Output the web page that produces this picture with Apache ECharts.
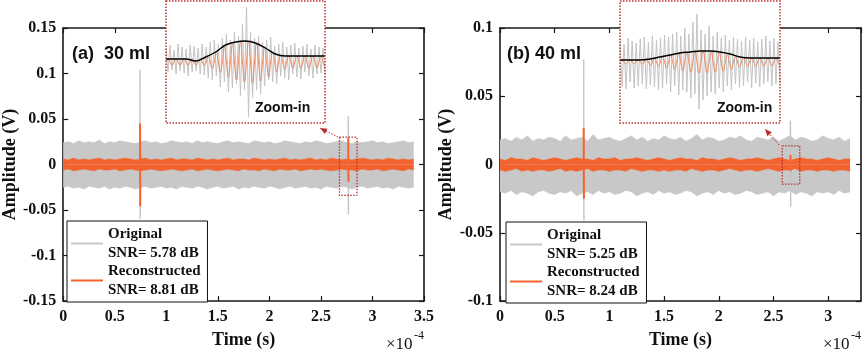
<!DOCTYPE html>
<html>
<head>
<meta charset="utf-8">
<script src="https://cdn.jsdelivr.net/npm/echarts@6/dist/echarts.min.js"></script>
<style>
  html, body { margin: 0; padding: 0; background: #fff; }
  #chart { width: 868px; height: 354px; }
</style>
</head>
<body>
<div id="chart"></div>
<script>
  // time in units of 1e-4 s, amplitude in mV (converted to V below)
  const bandStep = 0.05;

  // (a) 30 ml -- noise band envelopes, t = 0 .. 3.40
  const grayUpA = [
    24, 25, 23, 26, 24, 25, 24, 27, 23, 25,
    24, 26, 25, 24, 23, 25, 26, 24, 25, 23,
    24, 26, 25, 24, 25, 23, 26, 24, 25, 24,
    23, 25, 26, 24, 25, 24, 23, 26, 25, 24,
    25, 23, 24, 26, 25, 24, 23, 25, 24, 26,
    25, 23, 24, 25, 26, 24, 23, 25, 24, 25,
    26, 24, 25, 23, 24, 25, 26, 24, 25];
  const grayLowA = [
    -25, -24, -26, -25, -27, -24, -25, -26, -24, -27,
    -25, -26, -24, -25, -27, -25, -24, -26, -25, -24,
    -26, -25, -27, -24, -25, -26, -24, -25, -27, -25,
    -24, -26, -25, -24, -27, -25, -26, -24, -25, -26,
    -24, -25, -27, -25, -24, -26, -25, -24, -26, -25,
    -27, -24, -25, -26, -24, -25, -27, -25, -24, -26,
    -25, -24, -26, -25, -27, -24, -25, -26, -25];
  const orangeUpA = [
    6, 5, 7, 5, 6, 5, 6, 7, 5, 6,
    5, 6, 7, 6, 5, 6, 7, 5, 6, 5,
    6, 7, 5, 6, 6, 5, 7, 6, 5, 6,
    5, 6, 7, 5, 6, 6, 5, 7, 6, 5,
    6, 5, 6, 7, 5, 6, 5, 6, 7, 5,
    6, 5, 7, 6, 5, 6, 5, 6, 7, 6,
    5, 6, 5, 7, 6, 5, 6, 5, 6];
  const orangeLowA = [
    -6, -5, -7, -6, -5, -6, -7, -5, -6, -6,
    -5, -7, -6, -5, -6, -7, -6, -5, -6, -7,
    -6, -5, -6, -7, -6, -5, -7, -6, -5, -6,
    -7, -6, -5, -6, -7, -5, -6, -6, -7, -5,
    -6, -7, -5, -6, -6, -5, -7, -6, -5, -6,
    -5, -6, -7, -6, -5, -6, -6, -7, -5, -6,
    -6, -5, -7, -6, -5, -6, -7, -5, -6];
  // spikes: [time, top, bottom]
  const graySpikesA = [[0.745, 104, -60], [2.765, 53, -55]];
  const orangeSpikesA = [[0.745, 45, -46], [2.765, 29, -19]];
  // dotted zoom box: [t0, t1], [top, bottom]
  const boxTimeA = [2.68, 2.85];
  const boxAmpA = [30, -34];

  // (b) 40 ml -- t = 0 .. 3.20
  const grayUpB = [
    18, 19, 17, 20, 18, 21, 17, 19, 18, 20,
    19, 17, 21, 18, 19, 20, 17, 22, 18, 19,
    20, 18, 17, 19, 21, 18, 20, 17, 19, 18,
    21, 19, 18, 20, 17, 19, 22, 18, 20, 19,
    17, 18, 20, 19, 21, 18, 17, 20, 19, 18,
    20, 17, 19, 21, 18, 20, 19, 17, 18, 21,
    19, 18, 20, 17, 19];
  const grayLowB = [
    -20, -21, -19, -22, -20, -21, -23, -20, -19, -21,
    -22, -20, -21, -19, -23, -21, -20, -22, -19, -21,
    -20, -22, -21, -19, -20, -23, -21, -20, -22, -19,
    -21, -20, -22, -21, -19, -20, -23, -21, -20, -22,
    -19, -21, -20, -22, -21, -19, -20, -22, -21, -20,
    -23, -20, -21, -19, -22, -20, -21, -23, -20, -21,
    -20, -22, -19, -21, -20];
  const orangeUpB = [
    4, 3, 5, 4, 4, 3, 5, 4, 3, 4,
    5, 4, 3, 4, 5, 4, 4, 3, 5, 4,
    4, 5, 3, 4, 4, 5, 4, 3, 4, 5,
    4, 3, 4, 5, 4, 4, 3, 5, 4, 4,
    3, 4, 5, 4, 3, 4, 4, 5, 4, 3,
    4, 5, 4, 3, 4, 5, 4, 4, 3, 4,
    5, 4, 3, 4, 4];
  const orangeLowB = [
    -4, -5, -4, -3, -5, -4, -5, -4, -4, -5,
    -4, -3, -5, -4, -5, -4, -3, -5, -4, -4,
    -5, -4, -4, -5, -3, -4, -5, -4, -4, -5,
    -4, -5, -4, -4, -5, -3, -4, -5, -4, -4,
    -5, -4, -3, -4, -5, -4, -4, -5, -4, -3,
    -4, -5, -4, -4, -3, -5, -4, -4, -5, -4,
    -4, -5, -4, -4, -5];
  const graySpikesB = [[0.765, 77, -41], [2.655, 32, -31]];
  const orangeSpikesB = [[0.765, 27, -25], [2.655, 7, -5]];
  const boxTimeB = [2.58, 2.74];
  const boxAmpB = [13.7, -14.4];

  // zoom-in insets (relative amplitude)
  const insetGrayA = [
    14, -10, 17, -8, 12, -12, 18, -9, 15, -11, 13, -14, 17, -10, 16, -9, 14, -12, 18, -13,
    15, -16, 20, -18, 22, -14, 18, -25, 24, -20, 28, -30, 22, -26, 30, -22, 26, -34, 38, -28,
    55, -55, 30, -36, 24, -28, 26, -32, 20, -24, 22, -18, 25, -20, 16, -22, 18, -14, 20, -16,
    15, -18, 17, -12, 19, -15, 14, -17, 16, -10, 18, -14, 13, -16, 17, -12, 15, -11, 14, -13];
  const insetOrangeA = [
    0, 3, 0, -3, 0, 3, 0, -3, 0, 3, 0, -3, 0, 3, 0, -3, 0, 3, 0, -3,
    0, 6, 0, -6, 0, 10, 0, -10, 0, 15, 0, -15, 0, 18, 0, -18, 0, 20, 0, -20,
    0, 21, 0, -21, 0, 19, 0, -19, 0, 15, 0, -15, 0, 10, 0, -10, 0, 7, 0, -7,
    0, 6, 0, -6, 0, 6, 0, -6, 0, 6, 0, -6, 0, 6, 0, -6, 0, 6, 0, -6];
  const insetEnvA = [3, 3, 3, 1, 5, 10, 17, 20, 21, 19, 14, 8, 6, 6, 6, 6, 6];

  const insetGrayB = [
    22, -25, 18, -27, 24, -20, 21, -26, 19, -24, 23, -22, 25, -27, 20, -23, 26, -25, 22, -28,
    24, -26, 27, -22, 25, -30, 28, -24, 30, -33, 26, -28, 34, -30, 28, -36, 40, -32, 48, -47,
    32, -38, 28, -34, 36, -30, 26, -32, 30, -26, 24, -30, 27, -24, 22, -28, 25, -22, 23, -26,
    21, -24, 25, -20, 22, -26, 24, -21, 20, -25, 23, -22, 26, -20, 21, -24, 24, -22, 20, -21];
  const insetOrangeB = [
    0, 2, 0, -2, 0, 2, 0, -2, 0, 2, 0, -2, 0, 3, 0, -3, 0, 4, 0, -4,
    0, 6, 0, -6, 0, 7, 0, -7, 0, 9, 0, -9, 0, 10, 0, -10, 0, 11, 0, -11,
    0, 11, 0, -11, 0, 10, 0, -10, 0, 9, 0, -9, 0, 7, 0, -7, 0, 5, 0, -5,
    0, 4, 0, -4, 0, 4, 0, -4, 0, 4, 0, -4, 0, 4, 0, -4, 0, 4, 0, -4];
  const insetEnvB = [2, 2, 2, 3, 5, 7, 9, 10, 11, 11, 10, 8, 5, 4, 4, 4, 4];

  const legendText = {
    origA: 'Original\nSNR= 5.78 dB',
    recA: 'Reconstructed\nSNR= 8.81 dB',
    origB: 'Original\nSNR= 5.25 dB',
    recB: 'Reconstructed\nSNR= 8.24 dB'
  };

  const GRAY = '#c8c8c8';
  const ORANGE = '#f4632e';
  const RED = '#b5302f';
  const SERIF = 'Liberation Serif';
  const SANS = 'Liberation Sans';

  const band = vals => vals.map((v, i) => [+(i * bandStep).toFixed(3), v / 1000]);
  const seq = vals => vals.map((v, i) => [i / (vals.length - 1), v]);

  function areaSeries(name, vals, color, grid) {
    return {
      name: name, type: 'line', xAxisIndex: grid * 2, yAxisIndex: grid * 2,
      data: band(vals), showSymbol: false, silent: true,
      lineStyle: {color: color, width: 0.6}, itemStyle: {color: color},
      areaStyle: {color: color, opacity: 1}
    };
  }
  function spikeSeries(list, color, width, grid) {
    return list.map(s => ({
      type: 'line', xAxisIndex: grid * 2, yAxisIndex: grid * 2, silent: true,
      data: [[s[0], s[1] / 1000], [s[0] + 0.002, s[2] / 1000]],
      showSymbol: false, lineStyle: {color: color, width: width}
    }));
  }
  function boxSeries(ts, amps, grid) {
    const top = amps[0] / 1000, bot = amps[1] / 1000;
    return {
      type: 'line', xAxisIndex: grid * 2, yAxisIndex: grid * 2, z: 6, silent: true,
      data: [[ts[0], top], [ts[1], top], [ts[1], bot], [ts[0], bot], [ts[0], top]],
      showSymbol: false, lineStyle: {color: RED, width: 1.3, type: [1.5, 1.5]}
    };
  }

  const axisLine = {show: true, onZero: false, lineStyle: {color: '#1a1a1a', width: 1.6}};
  const tickIn = {show: true, inside: true, length: 5, lineStyle: {color: '#1a1a1a', width: 1.2}};
  const labelFont = {fontFamily: SERIF, fontWeight: 'bold', fontSize: 16, color: '#111'};
  const nameFont = {fontFamily: SERIF, fontWeight: 'bold', fontSize: 18, color: '#111'};

  function mainX(grid, max, showMax) {
    return [
      {type: 'value', gridIndex: grid, min: 0, max: max, interval: 0.5, position: 'bottom',
        axisLine: axisLine, axisTick: tickIn, splitLine: {show: false},
        axisLabel: Object.assign({margin: 8, showMaxLabel: showMax}, labelFont),
        name: 'Time (s)', nameLocation: 'middle', nameGap: 30, nameTextStyle: nameFont},
      {type: 'value', gridIndex: grid, min: 0, max: max, interval: 0.5, position: 'top',
        axisLine: axisLine, axisTick: tickIn, splitLine: {show: false}, axisLabel: {show: false}}
    ];
  }
  function mainY(grid, lim) {
    return [
      {type: 'value', gridIndex: grid, min: -lim, max: lim, interval: 0.05, position: 'left',
        axisLine: axisLine, axisTick: tickIn, splitLine: {show: false},
        axisLabel: Object.assign({margin: 7}, labelFont),
        name: 'Amplitude (V)', nameLocation: 'middle', nameGap: 43, nameTextStyle: nameFont},
      {type: 'value', gridIndex: grid, min: -lim, max: lim, interval: 0.05, position: 'right',
        axisLine: axisLine, axisTick: tickIn, splitLine: {show: false}, axisLabel: {show: false}}
    ];
  }
  const hiddenX = grid => ({type: 'value', gridIndex: grid, min: 0, max: 1, show: false});
  const hiddenY = grid => ({type: 'value', gridIndex: grid, min: -61, max: 61, show: false});

  function insetSeries(gray, orange, env, idx) {
    return [
      {type: 'line', xAxisIndex: idx, yAxisIndex: idx, data: seq(gray), showSymbol: false, silent: true,
        lineStyle: {color: '#c4c4c4', width: 1}},
      {type: 'line', xAxisIndex: idx, yAxisIndex: idx, data: seq(orange), showSymbol: false, silent: true,
        smooth: 0.5, lineStyle: {color: '#ec8a62', width: 1}},
      {type: 'line', xAxisIndex: idx, yAxisIndex: idx, data: seq(env), showSymbol: false, silent: true,
        smooth: 0.4, lineStyle: {color: '#000', width: 1.4}}
    ];
  }

  function legendFor(names, left, top) {
    return {
      data: [
        {name: names[0], icon: 'rect', itemStyle: {color: GRAY}},
        {name: names[1], icon: 'rect', itemStyle: {color: ORANGE}}
      ],
      left: left, top: top, orient: 'vertical', align: 'left',
      itemWidth: 32, itemHeight: 2, itemGap: 0, selectedMode: false,
      padding: [4, 7, 3, 4], backgroundColor: '#fff', borderColor: '#111', borderWidth: 1,
      formatter: n => legendText[n],
      textStyle: {fontFamily: SERIF, fontWeight: 'bold', fontSize: 15, lineHeight: 18.5, color: '#111'}
    };
  }

  function arrow(tail, tip, base1, base2) {
    return [
      {type: 'line', z: 12, shape: {x1: tail[0], y1: tail[1], x2: tip[0], y2: tip[1]},
        style: {stroke: RED, lineWidth: 1, lineDash: [1.5, 1.5]}},
      {type: 'polygon', z: 12, shape: {points: [tip, base1, base2]}, style: {fill: RED}}
    ];
  }
  function insetFrame(x, w) {
    return [
      {type: 'rect', z: 1, shape: {x: x, y: 1, width: w, height: 122}, style: {fill: '#fff'}},
      {type: 'rect', z: 11, shape: {x: x, y: 1, width: w, height: 122},
        style: {fill: 'none', stroke: RED, lineWidth: 1.5, lineDash: [1.5, 1.5]}}
    ];
  }
  function textEl(x, y, text, font, size, weight) {
    return {type: 'text', z: 12, x: x, y: y,
      style: {text: text, fontFamily: font, fontSize: size, fontWeight: weight, fill: '#111',
        verticalAlign: 'middle', align: 'left'}};
  }

  const chart = echarts.init(document.getElementById('chart'));
  chart.setOption({
    animation: false,
    backgroundColor: '#fff',
    grid: [
      {left: 62, top: 28, width: 362, height: 277},
      {left: 500, top: 28, width: 361, height: 278},
      {left: 166, top: 1, width: 159, height: 122},
      {left: 620, top: 1, width: 160, height: 122}
    ],
    xAxis: [].concat(mainX(0, 3.5, true), mainX(1, 3.3, false), [hiddenX(2), hiddenX(3)]),
    yAxis: [].concat(mainY(0, 0.15), mainY(1, 0.1), [hiddenY(2), hiddenY(3)]),
    legend: [legendFor(['origA', 'recA'], 67, 221), legendFor(['origB', 'recB'], 506, 222)],
    series: [].concat(
      [areaSeries('origA', grayUpA, GRAY, 0), areaSeries('origA', grayLowA, GRAY, 0)],
      spikeSeries(graySpikesA, '#c4c4c4', 1.4, 0),
      [areaSeries('recA', orangeUpA, ORANGE, 0), areaSeries('recA', orangeLowA, ORANGE, 0)],
      spikeSeries(orangeSpikesA, ORANGE, 2, 0),
      [boxSeries(boxTimeA, boxAmpA, 0)],
      [areaSeries('origB', grayUpB, GRAY, 1), areaSeries('origB', grayLowB, GRAY, 1)],
      spikeSeries(graySpikesB, '#c4c4c4', 1.4, 1),
      [areaSeries('recB', orangeUpB, ORANGE, 1), areaSeries('recB', orangeLowB, ORANGE, 1)],
      spikeSeries(orangeSpikesB, ORANGE, 2, 1),
      [boxSeries(boxTimeB, boxAmpB, 1)],
      insetSeries(insetGrayA, insetOrangeA, insetEnvA, 4),
      insetSeries(insetGrayB, insetOrangeB, insetEnvB, 5)
    ),
    graphic: [].concat(
      insetFrame(166, 159), insetFrame(620, 160),
      arrow([338, 137], [320, 128], [327.6, 128.7], [324.8, 133.9]),
      arrow([779, 145], [765, 129], [771.9, 132.3], [767.4, 136.3]),
      [
        textEl(72, 54, '(a)  30 ml', SANS, 18, 'bold'),
        textEl(507, 54, '(b) 40 ml', SANS, 18, 'bold'),
        textEl(255, 108, 'Zoom-in', SANS, 14, 'bold'),
        textEl(717, 108, 'Zoom-in', SANS, 14, 'bold'),
        textEl(386, 345, '×10', SERIF, 17, 'normal'),
        textEl(414, 336, '-4', SERIF, 12, 'normal'),
        textEl(823, 345, '×10', SERIF, 17, 'normal'),
        textEl(851, 336, '-4', SERIF, 12, 'normal')
      ]
    )
  });
</script>
</body>
</html>
